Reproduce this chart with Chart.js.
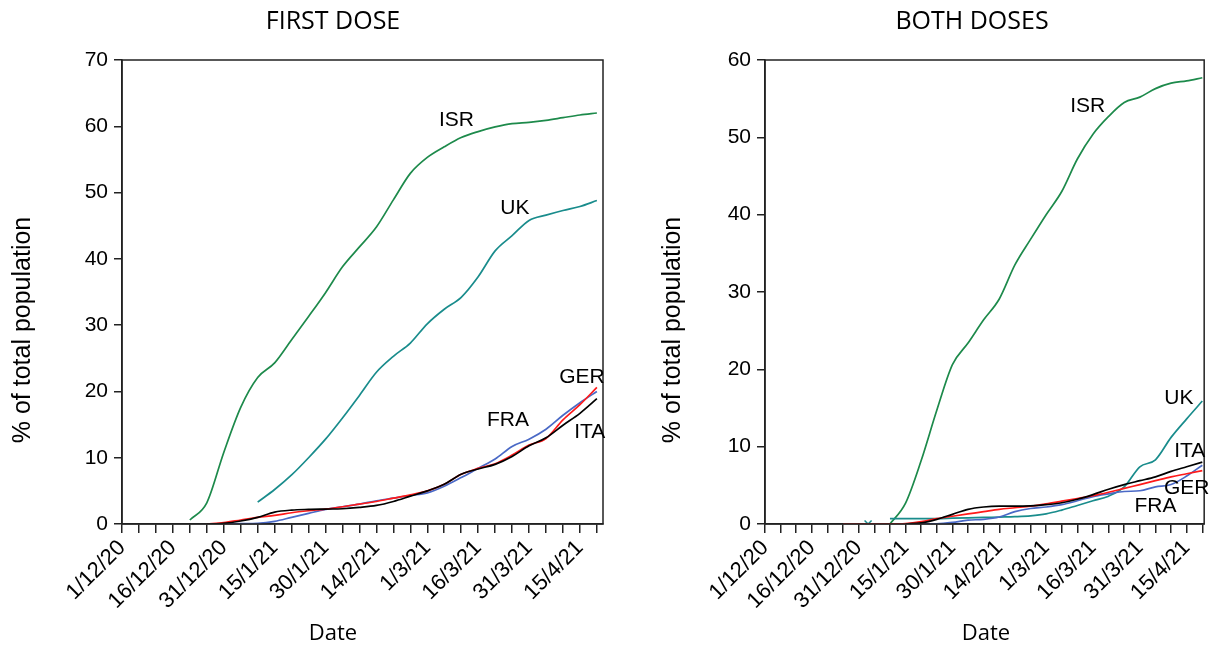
<!DOCTYPE html>
<html>
<head>
<meta charset="utf-8">
<script src="https://cdn.jsdelivr.net/npm/chart.js@4.4.1/dist/chart.umd.min.js"></script>
<style>
  html, body { margin: 0; padding: 0; background: #fff; }
  #wrap { position: relative; width: 1223px; height: 647px; }
  #c1 { position: absolute; left: 0; top: 0; }
  #c2 { position: absolute; left: 650px; top: 0; }
</style>
</head>
<body>
<div id="wrap">
  <canvas id="c1" width="650" height="647"></canvas>
  <canvas id="c2" width="573" height="647"></canvas>
</div>
<script>
// days since 1/12/20, sampled every 5 days
const days = [0, 5, 10, 15, 20, 25, 30, 35, 40, 45, 50, 55, 60, 65, 70, 75, 80, 85, 90, 95, 100, 105, 110, 115, 120, 125, 130, 135, 140];
const tickDates = ['1/12/20', '16/12/20', '31/12/20', '15/1/21', '30/1/21', '14/2/21', '1/3/21', '16/3/21', '31/3/21', '15/4/21'];

// FIRST DOSE (% of total population)
const isrFirst = [null, null, null, null, 0.6, 3.2, 10.8, 17.6, 22.1, 24.3, 27.8, 31.3, 34.9, 38.8, 41.8, 44.8, 48.9, 52.9, 55.3, 56.9, 58.3, 59.2, 59.9, 60.4, 60.6, 60.9, 61.3, 61.7, 62.0];
const ukFirst  = [null, null, null, null, null, null, null, null, 3.3, 5.2, 7.4, 10.0, 12.8, 16.0, 19.4, 22.9, 25.3, 27.3, 30.2, 32.4, 34.2, 37.3, 41.2, 43.5, 45.8, 46.6, 47.3, 47.9, 48.8];
const fraFirst = [null, null, null, null, null, 0, 0, 0.05, 0.1, 0.4, 1.0, 1.6, 2.2, 2.6, 3.0, 3.5, 3.9, 4.3, 4.7, 5.7, 7.0, 8.4, 9.8, 11.7, 12.8, 14.3, 16.4, 18.3, 20.0];
const gerFirst = [null, null, null, null, null, 0, 0.2, 0.6, 1.0, 1.3, 1.7, 2.0, 2.25, 2.6, 3.0, 3.4, 3.9, 4.4, 5.0, 6.0, 7.5, 8.4, 9.1, 10.4, 11.9, 12.9, 15.7, 18.0, 20.6];
const itaFirst = [null, null, null, null, null, 0, 0.1, 0.45, 1.0, 1.8, 2.1, 2.2, 2.25, 2.3, 2.5, 2.8, 3.4, 4.2, 5.0, 6.0, 7.5, 8.3, 9.0, 10.2, 11.8, 13.0, 14.9, 16.7, 18.9];

// BOTH DOSES (% of total population)
const isrBoth = [null, null, null, null, null, null, null, null, 0, 2.7, 8.2, 14.7, 20.6, 23.4, 26.4, 29.1, 33.5, 36.8, 40.0, 43.0, 47.2, 50.4, 52.7, 54.5, 55.2, 56.3, 57.0, 57.3, 57.7];
const ukBoth  = [null, null, null, null, null, null, null, null, 0.7, 0.7, 0.7, 0.7, 0.75, 0.8, 0.85, 0.9, 0.95, 1.05, 1.3, 1.8, 2.4, 3.0, 3.6, 4.8, 7.4, 8.3, 11.2, 13.6, 15.9];
const fraBoth = [null, null, null, null, null, null, null, null, null, null, 0, 0.02, 0.2, 0.5, 0.6, 0.9, 1.6, 2.0, 2.2, 2.5, 3.0, 3.55, 3.9, 4.2, 4.3, 4.8, 5.1, 6.2, 7.6];
const gerBoth = [null, null, null, null, null, 0, 0, 0, 0, 0.05, 0.3, 0.7, 1.0, 1.3, 1.6, 1.9, 2.1, 2.3, 2.6, 2.95, 3.3, 3.65, 4.1, 4.6, 5.1, 5.6, 6.1, 6.5, 6.9];
const itaBoth = [null, null, null, null, null, null, null, null, null, 0, 0.15, 0.6, 1.25, 1.9, 2.2, 2.3, 2.3, 2.35, 2.5, 2.75, 3.2, 3.8, 4.5, 5.1, 5.6, 6.1, 6.8, 7.4, 8.0];
const ukBothMark = [{ x: 33, y: 0 }];

const colors = { ISR: '#1d8a4b', UK: '#198c8c', FRA: '#4a69c6', GER: '#ff1a1a', ITA: '#000000' };
const sans = '"Liberation Sans", Arial, sans-serif';

function pairs(vals) {
  return days.map((d, i) => ({ x: d, y: vals[i] }));
}

function line(name, vals) {
  return {
    label: name,
    data: pairs(vals),
    borderColor: colors[name],
    borderWidth: 1.7,
    pointRadius: 0,
    cubicInterpolationMode: 'monotone',
    spanGaps: false
  };
}

// titles, axis titles, frame and the series names
const panelText = {
  id: 'panelText',
  afterDraw(chart, args, opts) {
    const { ctx, chartArea: a, scales: { x, y } } = chart;
    ctx.save();
    ctx.strokeStyle = '#222';
    ctx.lineWidth = 1.5;
    ctx.strokeRect(a.left, a.top, a.right - a.left, a.bottom - a.top);

    ctx.fillStyle = '#000';
    ctx.textAlign = 'center';
    ctx.textBaseline = 'middle';
    ctx.font = '25px "Open Sans", sans-serif';
    ctx.fillText(opts.title, opts.titleX, 22);
    ctx.font = '22px "Open Sans", sans-serif';
    ctx.fillText('Date', opts.dateX, 634);
    ctx.save();
    ctx.translate(23, 330);
    ctx.rotate(-Math.PI / 2);
    ctx.font = '25px ' + sans;
    ctx.fillText('% of total population', 0, 0);
    ctx.restore();

    ctx.font = '21px ' + sans;
    opts.names.forEach(n => {
      ctx.fillText(n.text, x.getPixelForValue(n.day), y.getPixelForValue(n.value));
    });
    ctx.restore();
  }
};

function makeChart(id, datasets, yMax, xMax, yWidth, padRight, text) {
  return new Chart(document.getElementById(id), {
    type: 'line',
    data: { datasets: datasets },
    options: {
      responsive: false,
      animation: false,
      layout: { padding: { top: 60, right: padRight, left: 0, bottom: 0 } },
      plugins: { legend: { display: false }, tooltip: { enabled: false }, panelText: text },
      scales: {
        x: {
          type: 'linear',
          min: 0,
          max: xMax,
          afterFit: s => { s.height = 123; },
          border: { display: true, color: '#222', width: 1.5 },
          grid: { drawOnChartArea: false, drawTicks: true, tickLength: 9, color: '#222', lineWidth: 1.5 },
          ticks: {
            stepSize: 5,
            includeBounds: false,
            autoSkip: false,
            minRotation: 45,
            maxRotation: 45,
            padding: 2,
            color: '#000',
            font: { family: sans, size: 22 },
            callback: v => (v % 15 === 0 ? tickDates[v / 15] : '')
          }
        },
        y: {
          min: 0,
          max: yMax,
          afterFit: s => { s.width = yWidth; },
          border: { display: true, color: '#222', width: 1.5 },
          grid: { drawOnChartArea: false, drawTicks: true, tickLength: 8, color: '#222', lineWidth: 1.5 },
          ticks: { stepSize: 10, padding: 6, color: '#000', font: { family: sans, size: 21 } }
        }
      }
    },
    plugins: [panelText]
  });
}

makeChart('c1', [
  line('ITA', itaFirst),
  line('GER', gerFirst),
  line('FRA', fraFirst),
  line('UK', ukFirst),
  line('ISR', isrFirst)
], 70, 141.8, 122, 47, {
  title: 'FIRST DOSE', titleX: 333, dateX: 333,
  names: [
    { text: 'ISR', day: 98.6, value: 60.9 },
    { text: 'UK', day: 115.8, value: 47.6 },
    { text: 'GER', day: 135.6, value: 22.2 },
    { text: 'FRA', day: 113.8, value: 15.6 },
    { text: 'ITA', day: 137.9, value: 13.9 }
  ]
});

makeChart('c2', [
  line('ITA', itaBoth),
  line('GER', gerBoth),
  line('FRA', fraBoth),
  line('UK', ukBoth),
  {
    label: 'UK mark',
    data: ukBothMark,
    showLine: false,
    pointStyle: 'crossRot',
    pointRadius: 5,
    borderColor: colors.UK,
    borderWidth: 1.5
  },
  line('ISR', isrBoth)
], 60, 140.6, 115, 6, {
  title: 'BOTH DOSES', titleX: 322, dateX: 336,
  names: [
    { text: 'ISR', day: 103.3, value: 54.0 },
    { text: 'UK', day: 132.5, value: 16.25 },
    { text: 'ITA', day: 136, value: 9.35 },
    { text: 'GER', day: 135, value: 4.65 },
    { text: 'FRA', day: 125, value: 2.24 }
  ]
});
</script>
</body>
</html>
